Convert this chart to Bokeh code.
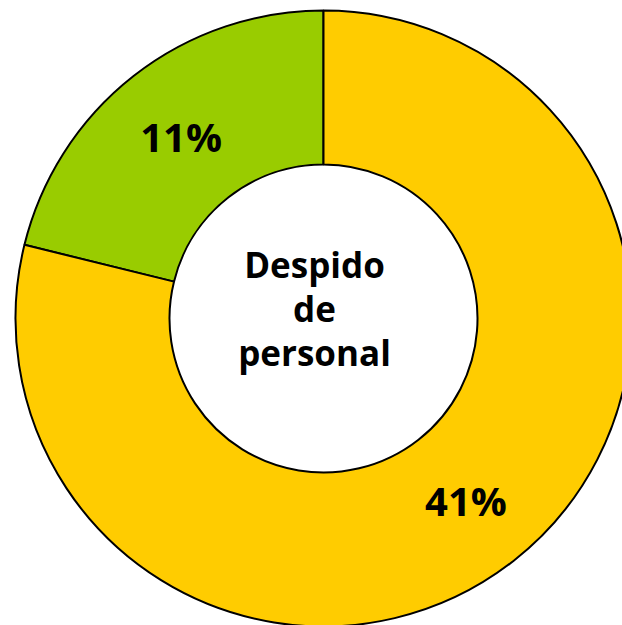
import numpy as np
from bokeh.plotting import figure
from bokeh.models import ColumnDataSource, Range1d
from bokeh.core.properties import value
from bokeh.embed import file_html
from bokeh.resources import INLINE

# Data
slice_names = ["Verde", "Amarillo"]
slice_values = [11, 41]
slice_labels = ["11%", "41%"]
slice_colors = ["#99CC00", "#FFCC00"]
center_title = "Despido\nde\npersonal"

W, H = 622, 625
cx, cy = 323, H - 318
r_out, r_in = 308, 154

vals = np.array(slice_values, dtype=float)
frac = vals / vals.sum()
ang = frac * 2 * np.pi
start = np.pi / 2 + np.concatenate([[0], np.cumsum(ang)[:-1]])
end = start + ang
mid = (start + end) / 2
r_mid = (r_out + r_in) / 2

src = ColumnDataSource(dict(
    name=slice_names, value=slice_values, label=slice_labels, color=slice_colors,
    start=start, end=end,
    lx=cx + r_mid * np.cos(mid), ly=cy + r_mid * np.sin(mid),
))

p = figure(width=W, height=H, output_backend="svg", toolbar_location=None,
           x_range=Range1d(0, W), y_range=Range1d(0, H), min_border=0)
p.axis.visible = False
p.grid.visible = False
p.outline_line_color = None
p.background_fill_color = "white"
p.border_fill_color = "white"

p.annular_wedge(x=cx, y=cy, inner_radius=r_in, outer_radius=r_out,
                start_angle="start", end_angle="end", direction="anticlock",
                fill_color="color", line_color="black", line_width=2, source=src)

p.text(x="lx", y="ly", text="label", source=src, text_align="center",
       text_baseline="middle", text_font=value("Open Sans"), text_font_style="bold",
       text_font_size="40px", text_color="black")

p.text(x=[cx - 9], y=[cy + 10], text=[center_title], text_align="center",
       text_baseline="middle", text_font=value("Open Sans"), text_font_style="bold",
       text_font_size="35px", text_color="black", text_line_height=0.93)

open("out.html", "w").write(file_html(p, INLINE))
